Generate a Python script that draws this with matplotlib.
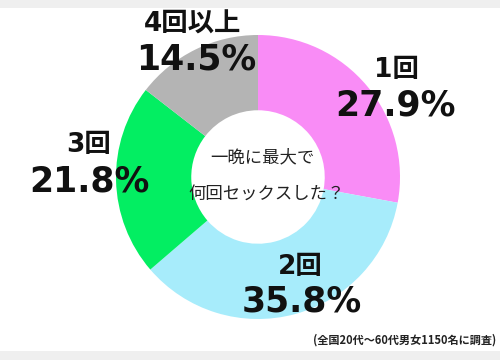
import matplotlib
matplotlib.use("Agg")
from matplotlib import pyplot as plt
from matplotlib.patches import Rectangle

plt.rcParams['font.family'] = ['Noto Sans CJK JP', 'DejaVu Sans']

labels = ['1回', '2回', '3回', '4回以上']
values = [27.9, 35.8, 21.8, 14.5]
colors = ['#f98cf6', '#a7ecfb', '#03ee62', '#b4b4b4']

# label positions in pixel coords (x, y from top)
name_pos = [(396, 70), (300, 267), (89, 145), (193, 25)]
pct_pos = [(395, 105), (302, 302), (89, 182), (196, 60)]

f1 = plt.figure(figsize=(5, 3.6), dpi=100, facecolor='#efefef')
ax = f1.add_axes([0, 0, 1, 1])

ax.add_patch(Rectangle((0, 9), 500, 343, facecolor='white', edgecolor='none', zorder=0))

ax.pie(values, colors=colors, startangle=90, counterclock=False,
       center=(258, 183), radius=142, frame=True,
       wedgeprops=dict(width=142 * 0.53, edgecolor='none'))
ax.set_xlim(0, 500)
ax.set_ylim(0, 360)
ax.set_aspect('equal')
ax.axis('off')

num_font = ['DejaVu Sans', 'Noto Sans CJK JP']
for lab, v, (nx, ny), (px, py) in zip(labels, values, name_pos, pct_pos):
    ax.text(nx, 360 - ny, lab, ha='center', va='center', fontsize=19,
            fontweight='bold', color='#111111', family=num_font)
    ax.text(px, 360 - py, '%.1f%%' % v, ha='center', va='center', fontsize=25,
            fontweight='bold', color='#111111', family=num_font)

ax.text(262, 360 - 157, '一晩に最大で', ha='center', va='center', fontsize=12.5, color='#222222')
ax.text(267, 360 - 194, '何回セックスした？', ha='center', va='center', fontsize=12.5, color='#222222')

ax.text(496, 360 - 340, '(全国20代〜60代男女1150名に調査)', ha='right', va='center',
        fontsize=8, fontweight='bold', color='#222222')

f1.savefig('out.png', dpi=100, facecolor=f1.get_facecolor())
